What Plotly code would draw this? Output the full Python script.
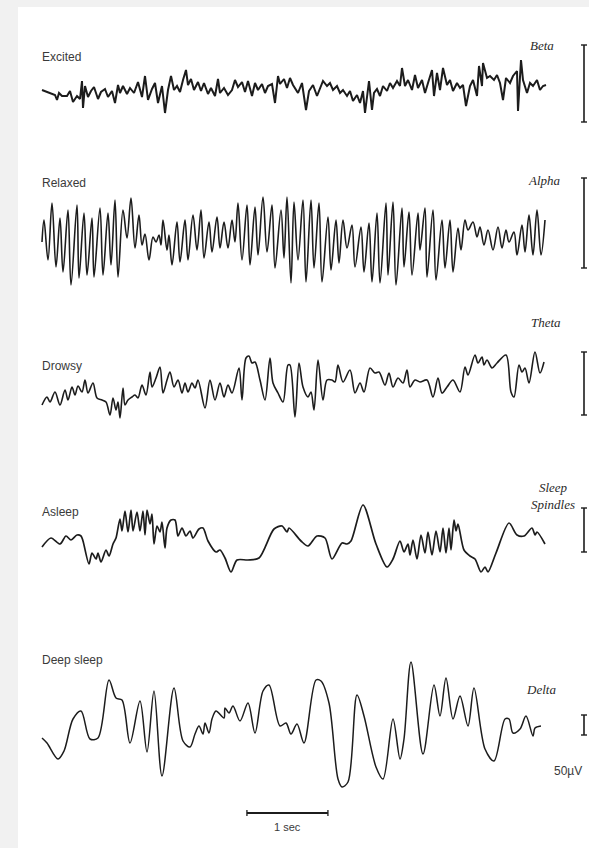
import numpy as np
import plotly.graph_objects as go

# ---------------------------------------------------------------------------
# EEG traces: (position along paper in chart units, pen deflection in chart units)
# Paper runs at 81 chart units per second; deflection is converted to µV with
# each channel's 50 µV calibration pulse.
# ---------------------------------------------------------------------------
PAPER_SPEED = 81.0

channels = ["Excited", "Relaxed", "Drowsy", "Asleep", "Deep sleep"]
rhythms = ["Beta", "Alpha", "Theta", "Sleep<br>Spindles", "Delta"]
cal_pulse = [77, 90, 63, 44, 20]   # deflection of the 50 µV calibration pulse
CAL_UV = 50

excited = [
    (0, 3), (3, 2), (8, 0), (13, -2), (15, -7), (17, 0), (20, -3), (25, -3), (28, 2), (31, -9),
    (35, -3), (38, -6), (40, 12), (41, -15), (43, 7), (46, -4), (49, 2), (52, 6), (56, -6), (59, 1),
    (63, 4), (66, -4), (70, 2), (73, -10), (76, 8), (78, 0), (81, 7), (85, -1), (88, 5), (92, 0),
    (96, 11), (100, -4), (103, 17), (106, -7), (110, 4), (113, 10), (116, -10), (120, 7), (123, -20),
    (126, 3), (129, 17), (132, 3), (135, 7), (138, 1), (141, 13), (144, 23), (146, 8), (149, 14),
    (152, 3), (156, 11), (159, 2), (162, 10), (166, -1), (169, 5), (173, -3), (176, 14), (178, 0),
    (182, 5), (186, -2), (190, 3), (193, 13), (196, 6), (200, 11), (203, 1), (206, 12), (210, -3),
    (213, 10), (216, 3), (220, 9), (223, 0), (226, 7), (230, 9), (233, -10), (236, 17), (238, 9),
    (242, 14), (245, 5), (248, 15), (251, 8), (256, 0), (260, 10), (264, -17), (267, 2), (271, 8),
    (275, -3), (278, 5), (281, 12), (285, 7), (288, 10), (291, 3), (295, 7), (298, 0), (301, 3),
    (305, -3), (308, 2), (311, -8), (315, -2), (318, -10), (321, 2), (323, -20), (325, -2), (327, 12),
    (330, -17), (332, 0), (335, 4), (338, -3), (341, 7), (345, 2), (348, 10), (351, 5), (355, 12),
    (358, 7), (360, 25), (363, 7), (366, 13), (370, 3), (373, 18), (376, 5), (380, 13), (383, 0),
    (386, 10), (390, 23), (392, -3), (395, 20), (398, 3), (401, 25), (405, 8), (408, 13), (411, 2),
    (415, 10), (418, 5), (421, 8), (424, -13), (428, 7), (431, 13), (435, -3), (437, 27), (440, 7),
    (441, 30), (445, 15), (448, 17), (452, 13), (455, 18), (458, 10), (461, -7), (464, 15), (468, 10),
    (471, 17), (475, 22), (476, -18), (479, 33), (481, 13), (485, 0), (488, 10), (491, 7), (495, 13),
    (498, 3), (501, 7), (504, 8),
]

relaxed = [
    (0, -4), (2, 18), (6, -22), (10, 35), (14, -29), (18, 20), (21, -34), (26, 28), (29, -47),
    (35, 33), (37, -40), (42, 25), (45, -37), (50, 20), (52, -39), (58, 30), (61, -37), (66, 25),
    (69, -27), (73, 38), (76, -39), (81, 28), (85, 0), (89, 40), (93, -10), (97, 23), (100, -7),
    (103, 4), (107, -22), (111, 1), (114, -4), (117, 3), (119, -7), (121, 18), (125, -12), (127, 3),
    (130, -27), (135, 16), (138, -24), (143, 18), (146, -22), (151, 23), (155, -12), (159, 28),
    (162, -20), (167, 16), (170, -14), (175, 21), (178, -10), (182, 16), (186, -10), (190, 18),
    (193, -4), (196, 35), (200, -22), (205, 33), (208, -27), (213, 31), (216, -17), (221, 41),
    (225, -14), (230, 33), (233, -30), (239, 28), (242, -20), (245, 41), (249, -45), (252, 36),
    (256, -22), (261, 38), (264, -44), (269, 38), (272, -30), (277, 35), (280, -44), (286, 21),
    (289, -32), (294, 18), (297, -25), (301, 18), (305, -10), (310, 13), (313, -29), (319, 11),
    (322, -34), (327, 15), (330, -44), (335, 25), (338, -45), (344, 35), (346, -37), (351, 36),
    (354, -47), (360, 30), (362, -29), (367, 26), (370, -37), (376, 25), (378, -12), (383, 30),
    (385, -39), (391, 28), (394, -42), (400, 18), (403, -30), (408, 18), (411, -34), (416, 10),
    (419, -12), (423, 18), (426, 8), (431, 16), (435, 1), (438, 11), (442, -7), (446, 8), (451, -12),
    (456, 11), (460, -10), (464, 8), (467, -4), (472, 6), (475, -17), (480, 13), (483, -14),
    (487, 23), (491, -17), (495, 28), (499, -17), (503, 18),
]

drowsy = [
    (0, -15), (5, -7), (8, -12), (13, -2), (18, -15), (23, 0), (26, -10), (30, 3), (33, -5), (36, 4),
    (40, -2), (43, 10), (46, -3), (51, 7), (55, -8), (60, -10), (64, -12), (68, -25), (71, -8),
    (74, -20), (76, -12), (78, -28), (81, 2), (83, -15), (86, -10), (90, -7), (93, -5), (96, -8),
    (100, 5), (104, -5), (108, 18), (110, 3), (114, 12), (118, 23), (121, -3), (125, 10), (128, 18),
    (132, 3), (136, 10), (140, -3), (143, 7), (146, -2), (150, 7), (153, 2), (156, 10), (163, -18),
    (168, 10), (173, -10), (178, 7), (182, -7), (186, 5), (190, -3), (197, 22), (200, -10), (204, 32),
    (207, 34), (210, 27), (213, 28), (218, 10), (223, -10), (228, 32), (231, 7), (236, -3), (241, -12),
    (246, 25), (248, 25), (253, -27), (257, 27), (261, 3), (266, -7), (269, -2), (272, -20), (276, 30),
    (281, -10), (285, 10), (290, 10), (293, 8), (296, 25), (301, 8), (308, 20), (313, -3), (318, 7),
    (322, -2), (328, 22), (333, 17), (337, 18), (343, 5), (347, 17), (351, 3), (356, 12), (361, 7),
    (365, 20), (368, 3), (373, 10), (378, 8), (385, 10), (391, -7), (396, 12), (400, -3), (405, 3),
    (411, 10), (418, -2), (423, 23), (426, 15), (433, 35), (436, 27), (440, 33), (442, 25), (445, 30),
    (450, 22), (455, 27), (464, 35), (469, -2), (472, -7), (477, 25), (480, 18), (483, 22), (487, 7),
    (493, 38), (498, 17), (502, 28),
]

asleep = [
    (0, -9), (9, 0), (18, -6), (24, 2), (29, -2), (35, 3), (39, 2), (41, -3), (47, -26), (50, -15),
    (54, -21), (56, -15), (59, -24), (64, -12), (67, -18), (71, -6), (74, 0), (78, 19), (80, 7),
    (83, 27), (86, 6), (89, 28), (91, 7), (95, 26), (98, 7), (101, 27), (103, 3), (105, 28), (108, 14),
    (110, 24), (112, -6), (115, 12), (118, 6), (120, 16), (123, -10), (125, 10), (129, 18), (133, 18),
    (136, 2), (140, 10), (144, 2), (148, 7), (151, 0), (157, 9), (161, 10), (166, -3), (174, -14),
    (178, -12), (183, -20), (189, -34), (195, -22), (206, -22), (217, -20), (232, 9), (240, 12),
    (245, 6), (247, 10), (259, -3), (266, -8), (275, 2), (283, 0), (290, -21), (300, -5), (305, -6),
    (309, -3), (321, 33), (334, -6), (345, -29), (351, -21), (358, -3), (362, -14), (366, -6),
    (368, -17), (371, -2), (375, -21), (379, 3), (383, -15), (386, 6), (390, -17), (394, 7),
    (398, -14), (401, 10), (404, -15), (407, 10), (409, -12), (412, 18), (414, 7), (416, 14),
    (422, -12), (428, -18), (433, -21), (439, -34), (443, -29), (446, -34), (454, -15), (467, 15),
    (475, 3), (482, 2), (490, 10), (493, 3), (495, 6), (503, -6),
]

deep_sleep = [
    (0, -12), (5, -17), (16, -33), (22, -25), (31, 7), (39, 15), (48, -13), (56, -12), (67, 46),
    (74, 28), (80, 26), (88, -17), (98, 25), (105, -26), (112, 35), (120, -50), (132, 38), (141, -15),
    (148, -21), (153, -8), (157, 0), (161, -8), (163, 3), (167, -7), (170, 7), (174, 15), (182, 8),
    (183, 18), (187, 13), (191, 20), (198, 5), (206, 23), (213, -7), (221, 35), (227, 41), (238, 0),
    (244, 3), (249, -8), (255, 2), (262, -17), (274, 46), (279, 45), (287, 23), (296, -53), (300, -61),
    (306, -56), (315, 31), (322, 10), (334, -41), (341, -53), (351, 7), (358, -33), (362, -13),
    (369, 64), (381, -28), (392, 41), (398, 10), (404, 48), (411, 7), (418, 30), (426, 0), (432, 38),
    (443, -23), (452, -35), (463, 7), (467, 7), (471, -7), (478, -3), (484, 10), (491, -10), (493, -2),
    (499, 0),
]

traces = [excited, relaxed, drowsy, asleep, deep_sleep]

# ---------------------------------------------------------------------------
# Page layout (pixels)
# ---------------------------------------------------------------------------
W, H = 589, 848
X0 = 42                                   # left edge of the traces
centers = [93, 238, 390, 538, 726]        # baseline of each channel
cal_base = [-29, -30, -25, -14, -9]       # bottom of calibration bar vs. baseline
CAL_X = 584
name_y = [57, 183, 366, 512, 660]
rhythm_xy = [(542, 46), (544, 181), (546, 322), (553, 496), (541, 689)]
line_w = [2.0, 1.6, 1.6, 1.7, 1.5]
smooth = [0, 1.0, 0.9, 0.8, 0.9]

INK = "#1c1c1c"

fig = go.Figure()

x_range = [(-X0) / PAPER_SPEED, (W - X0) / PAPER_SPEED]

layout_axes = {}
for i, (data, cal) in enumerate(zip(traces, cal_pulse)):
    pos = np.array([p for p, _ in data], dtype=float)
    defl = np.array([d for _, d in data], dtype=float)
    t = pos / PAPER_SPEED
    uv = defl * CAL_UV / cal
    k = CAL_UV / cal                       # µV per chart unit (1 chart unit = 1 px)
    c = centers[i]
    yname = "y" if i == 0 else f"y{i + 1}"
    axkey = "yaxis" if i == 0 else f"yaxis{i + 1}"
    ax = dict(range=[(c - H) * k, c * k], visible=False, fixedrange=True)
    if i > 0:
        ax["overlaying"] = "y"
    layout_axes[axkey] = ax

    line = dict(color=INK, width=line_w[i])
    if smooth[i] > 0:
        line.update(shape="spline", smoothing=smooth[i])
    fig.add_trace(go.Scatter(
        x=t, y=uv, mode="lines", yaxis=yname, xaxis="x", line=line,
        hoverinfo="skip", showlegend=False,
    ))

    # 50 µV calibration bar with end caps
    b0 = cal_base[i] * k
    xc = (CAL_X - X0) / PAPER_SPEED
    cap = 3 / PAPER_SPEED
    fig.add_shape(type="line", xref="x", yref=yname, x0=xc, x1=xc, y0=b0, y1=b0 + CAL_UV,
                  line=dict(color=INK, width=1.6))
    for yy in (b0, b0 + CAL_UV):
        fig.add_shape(type="line", xref="x", yref=yname, x0=xc - cap, x1=xc + cap, y0=yy, y1=yy,
                      line=dict(color=INK, width=1.4))

    fig.add_annotation(text=channels[i], xref="paper", yref="paper",
                       x=40 / W, y=1 - name_y[i] / H, xanchor="left", yanchor="middle",
                       showarrow=False,
                       font=dict(family="Liberation Sans", size=12, color="#3a3a3a"))
    rx, ry = rhythm_xy[i]
    fig.add_annotation(text=f"<i>{rhythms[i]}</i>", xref="paper", yref="paper",
                       x=rx / W, y=1 - ry / H, xanchor="center", yanchor="middle",
                       showarrow=False,
                       font=dict(family="Liberation Serif", size=13, color="#2a2a2a"))

# 1 second time bar
t_start = 2.53
bar_y = 1 - 813 / H
fig.add_shape(type="line", xref="x", yref="paper", x0=t_start, x1=t_start + 1, y0=bar_y, y1=bar_y,
              line=dict(color=INK, width=1.8))
for tt in (t_start, t_start + 1):
    fig.add_shape(type="line", xref="x", yref="paper", x0=tt, x1=tt,
                  y0=bar_y - 3 / H, y1=bar_y + 3 / H, line=dict(color=INK, width=1.3))
fig.add_annotation(text="1 sec", xref="x", yref="paper", x=t_start + 0.5, y=1 - 835 / H,
                   xanchor="center", showarrow=False,
                   font=dict(family="Liberation Sans", size=11, color="#3a3a3a"))
fig.add_annotation(text="50µV", xref="paper", yref="paper", x=568 / W, y=1 - 771 / H,
                   xanchor="center", yanchor="middle", showarrow=False,
                   font=dict(family="Liberation Sans", size=12, color="#3a3a3a"))

# white page on a light grey surround
fig.add_shape(type="rect", xref="paper", yref="paper", x0=18 / W, x1=1, y0=0, y1=1 - 7 / H,
              fillcolor="white", line=dict(width=0), layer="below")

fig.update_layout(
    width=W, height=H,
    margin=dict(l=0, r=0, t=0, b=0),
    paper_bgcolor="#f1f1f1",
    plot_bgcolor="rgba(0,0,0,0)",
    xaxis=dict(range=x_range, visible=False, domain=[0, 1], fixedrange=True),
    showlegend=False,
    **layout_axes,
)

fig.write_html("out.html", config={"displayModeBar": False})
